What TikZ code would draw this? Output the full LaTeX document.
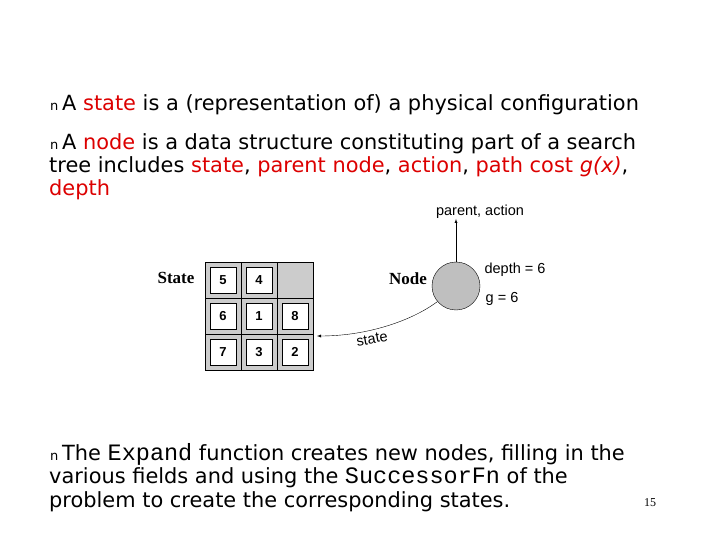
\documentclass[tikz,border=0pt]{standalone}
\usepackage{fontspec}
\setmainfont{DejaVu Sans}
\newfontfamily\arialx{Liberation Sans}
\newfontfamily\serifx{Liberation Serif}
\newfontfamily\monox{Liberation Mono}
\begin{document}
\begin{tikzpicture}[x=1pt,y=-1pt,
  txt/.style={anchor=base west,inner sep=0,font=\fontsize{20.9}{23}\selectfont},
  mono/.style={},
  bul/.style={anchor=base west,inner sep=0,font=\fontsize{13}{14}\selectfont},
  tile/.style={draw,fill=white,minimum size=26,inner sep=0,font=\arialx\bfseries\fontsize{13}{14}\selectfont},
  cell/.style={draw,fill=gray!40,minimum size=36,inner sep=0},
  small/.style={font=\arialx\fontsize{14.5}{16}\selectfont,inner sep=0}]
\useasboundingbox (0,0) rectangle (720,540);
\definecolor{rd}{RGB}{220,0,0}
\newcommand\mymono[1]{{\monox\fontsize{23.5}{23}\selectfont #1}}
\node[bul] (b1) at (50,111) {n};
\node[txt] (l1) at (62,111) {A \textcolor{rd}{state} is a (representation of) a physical configuration};
\node[bul] (b2) at (50,150) {n};
\node[txt] (l2) at (62,150) {A \textcolor{rd}{node} is a data structure constituting part of a search};
\node[txt] (l3) at (49,173) {tree includes \textcolor{rd}{state}, \textcolor{rd}{parent node}, \textcolor{rd}{action}, \textcolor{rd}{path cost \textit{g(x)}},};
\node[txt] (l4) at (49,196) {\textcolor{rd}{depth}};
% grid
\foreach \r in {0,1,2}{\foreach \c in {0,1,2}{
  \node[cell] (c\r\c) at (223+36*\c,280+36*\r) {};}}
\foreach \r/\c/\v in {0/0/5,0/1/4,1/0/6,1/1/1,1/2/8,2/0/7,2/1/3,2/2/2}{
  \node[tile] (t\r\c) at (c\r\c) {\v};}
\node[font=\serifx\bfseries\fontsize{17}{18}\selectfont,inner sep=0] (st) at (176,278) {State};
\node[circle,draw,fill=gray!50,minimum size=48,inner sep=0] (nd) at (456,286) {};
\node[font=\serifx\bfseries\fontsize{17}{18}\selectfont,inner sep=0] (nl) at (408,279) {Node};
\node[small] (pa) at (480,212) {parent, action};
\node[small] (dp) at (515,270) {depth = 6};
\node[small] (gg) at (502,299) {g = 6};
\draw[-latex] (nd.north) -- (pa.south -| nd.north);
\coordinate (ge) at (317,336);
\draw[-latex] (nd.220) .. controls (410,322) and (365,336) .. (ge);
\node[small,rotate=10] (sl) at (372,339) {state};
\node[bul] (b3) at (50,460) {n};
\node[txt] (l5) at (62,460) {The \mymono{Expand} function creates new nodes, filling in the};
\node[txt] (l6) at (49,483) {various fields and using the \mymono{SuccessorFn} of the};
\node[txt] (l7) at (49,507) {problem to create the corresponding states.};
\node[font=\serifx\fontsize{12}{14}\selectfont,inner sep=0] (pg) at (650,503) {15};
\end{tikzpicture}
\end{document}
